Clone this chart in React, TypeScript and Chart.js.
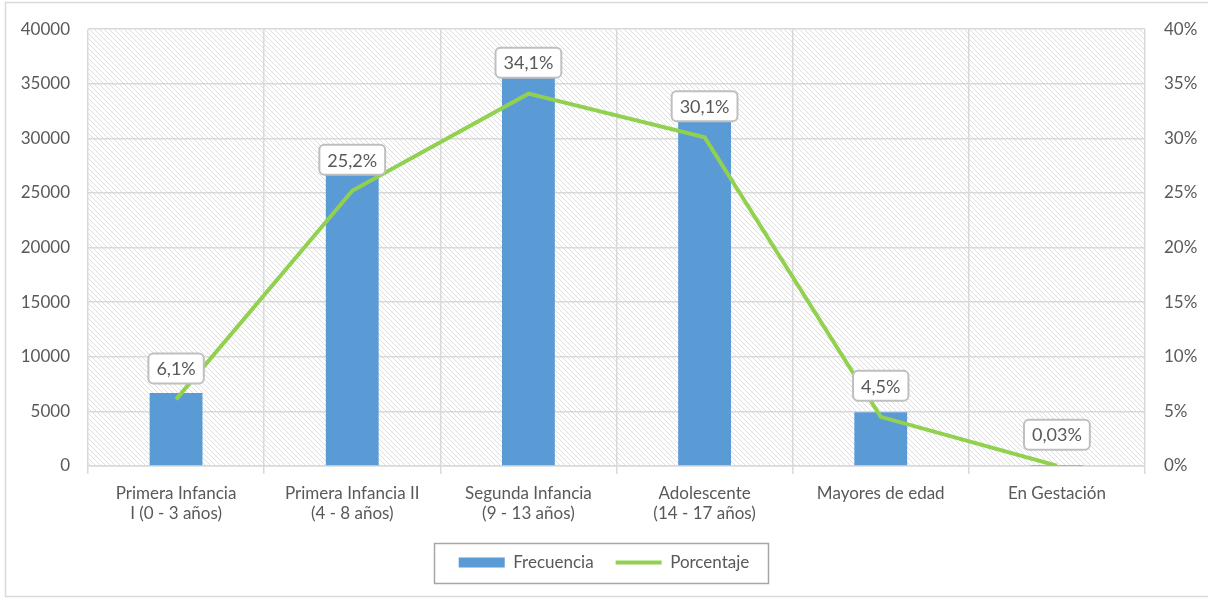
import React, { useEffect, useRef } from "react";
import { Chart, registerables } from "chart.js";

Chart.register(...registerables);

const categories: (string | string[])[] = [
  ["Primera Infancia", "I (0 - 3 años)"],
  ["Primera Infancia II", "(4 - 8 años)"],
  ["Segunda Infancia", "(9 - 13 años)"],
  ["Adolescente", "(14 - 17 años)"],
  "Mayores de edad",
  "En Gestación",
];
const frecuencia = [6680, 27600, 37340, 32960, 4930, 33];
const porcentaje = [6.1, 25.2, 34.1, 30.1, 4.5, 0.03];
const seriesNames = ["Frecuencia", "Porcentaje"];

const BLUE = "#5B9BD5";
const GREEN = "#92D050";
const GRID = "#d9d9d9";
const TEXT = "#595959";
const FONT = "Lato";

function makeHatch(): CanvasPattern | string {
  const s = 5;
  const c = document.createElement("canvas");
  c.width = s;
  c.height = s;
  const g = c.getContext("2d");
  if (!g) return "#fff";
  g.fillStyle = "#ffffff";
  g.fillRect(0, 0, s, s);
  g.strokeStyle = "#dedede";
  g.lineWidth = 1;
  g.beginPath();
  g.moveTo(-1, -1);
  g.lineTo(s + 1, s + 1);
  g.moveTo(-1, s - 1);
  g.lineTo(1, s + 1);
  g.moveTo(s - 1, -1);
  g.lineTo(s + 1, 1);
  g.stroke();
  const p = g.createPattern(c, "repeat");
  return p || "#fff";
}

const decorPlugin = {
  id: "decor",
  beforeDraw(chart: any) {
    const { ctx, chartArea } = chart;
    ctx.save();
    ctx.strokeStyle = GRID;
    ctx.lineWidth = 1.5;
    ctx.strokeRect(5.5, 2.5, 1300, 594);
    ctx.fillStyle = makeHatch();
    ctx.fillRect(chartArea.left, chartArea.top, chartArea.right - chartArea.left, chartArea.bottom - chartArea.top);
    ctx.restore();
  },
  afterDatasetsDraw(chart: any) {
    const { ctx } = chart;
    const meta = chart.getDatasetMeta(1);
    ctx.save();
    ctx.font = `18px ${FONT}`;
    ctx.textAlign = "center";
    ctx.textBaseline = "middle";
    meta.data.forEach((pt: any, i: number) => {
      const txt = String(porcentaje[i]).replace(".", ",") + "%";
      const w = ctx.measureText(txt).width + 16;
      const h = 30;
      const cx = pt.x;
      const cy = pt.y - 31;
      ctx.beginPath();
      (ctx as any).roundRect(cx - w / 2, cy - h / 2, w, h, 5);
      ctx.fillStyle = "#ffffff";
      ctx.fill();
      ctx.strokeStyle = "#bfbfbf";
      ctx.lineWidth = 2;
      ctx.stroke();
      ctx.fillStyle = TEXT;
      ctx.fillText(txt, cx, cy + 1);
    });
    ctx.restore();
  },
  afterDraw(chart: any) {
    const lg = chart.legend;
    if (!lg || !lg.legendHitBoxes || !lg.legendHitBoxes.length) return;
    const hb = lg.legendHitBoxes;
    const left = Math.min(...hb.map((b: any) => b.left));
    const right = Math.max(...hb.map((b: any) => b.left + b.width));
    const cy = hb[0].top + hb[0].height / 2;
    const { ctx } = chart;
    ctx.save();
    ctx.strokeStyle = "#a6a6a6";
    ctx.lineWidth = 1.5;
    ctx.strokeRect(Math.round(left - 25) + 0.5, Math.round(cy - 20) + 0.5, Math.round(right - left + 43), 40);
    ctx.restore();
  },
};

export default function App() {
  const ref = useRef<HTMLCanvasElement | null>(null);
  useEffect(() => {
    document.body.style.margin = "0";
    if (!ref.current) return;
    const chart = new Chart(ref.current, {
      type: "bar",
      data: {
        labels: categories as any,
        datasets: [
          {
            type: "bar",
            label: seriesNames[0],
            data: frecuencia,
            backgroundColor: BLUE,
            yAxisID: "y",
            barPercentage: 0.3,
            categoryPercentage: 1,
            order: 1,
          },
          {
            type: "line",
            label: seriesNames[1],
            data: porcentaje,
            borderColor: GREEN,
            backgroundColor: GREEN,
            borderWidth: 4,
            pointRadius: 0,
            tension: 0,
            yAxisID: "y1",
            order: 0,
          } as any,
        ],
      },
      options: {
        animation: false,
        responsive: true,
        maintainAspectRatio: false,
        layout: { padding: { top: 29, bottom: 17, left: 0, right: 0 } },
        font: { family: FONT, size: 17 } as any,
        color: TEXT,
        plugins: {
          tooltip: { enabled: false },
          legend: {
            position: "bottom",
            labels: {
              color: TEXT,
              font: { family: FONT, size: 17 },
              usePointStyle: true,
              pointStyleWidth: 46,
              boxHeight: 10,
              padding: 22,
              sort: (a: any, b: any) => a.datasetIndex - b.datasetIndex,
              generateLabels: (chart: any) => {
                const items = (Chart.defaults.plugins.legend.labels as any).generateLabels(chart);
                items.forEach((it: any) => {
                  if (it.datasetIndex === 0) {
                    it.pointStyle = "rect";
                    it.fillStyle = BLUE;
                    it.strokeStyle = BLUE;
                    it.lineWidth = 0;
                  } else {
                    it.pointStyle = "line";
                    it.strokeStyle = GREEN;
                    it.lineWidth = 4;
                  }
                  it.fontColor = TEXT;
                });
                return items;
              },
            },
          },
        },
        scales: {
          x: {
            offset: true,
            grid: { offset: true, color: GRID, lineWidth: 1.5, tickLength: 8, drawTicks: true },
            border: { color: GRID, width: 1.5 },
            ticks: { color: TEXT, font: { family: FONT, size: 17 }, padding: 9, maxRotation: 0, autoSkip: false },
            afterFit: (s: any) => {
              s.height = 66;
            },
          },
          y: {
            position: "left",
            min: 0,
            max: 40000,
            ticks: {
              stepSize: 5000,
              color: TEXT,
              font: { family: FONT, size: 17 },
              padding: 18,
              callback: (v: any) => String(v),
            },
            grid: { color: GRID, lineWidth: 1.5, drawTicks: false },
            border: { display: false },
            afterFit: (s: any) => {
              s.width = 88;
            },
          },
          y1: {
            position: "right",
            min: 0,
            max: 40,
            ticks: {
              stepSize: 5,
              color: TEXT,
              font: { family: FONT, size: 17 },
              padding: 19,
              callback: (v: any) => `${v}%`,
            },
            grid: { display: false, drawTicks: false },
            border: { display: false },
            afterFit: (s: any) => {
              s.width = 63;
            },
          },
        },
      },
      plugins: [decorPlugin],
    });
    return () => chart.destroy();
  }, []);
  return (
    <div style={{ width: 1208, height: 598, position: "relative" }}>
      <canvas ref={ref} />
    </div>
  );
}
